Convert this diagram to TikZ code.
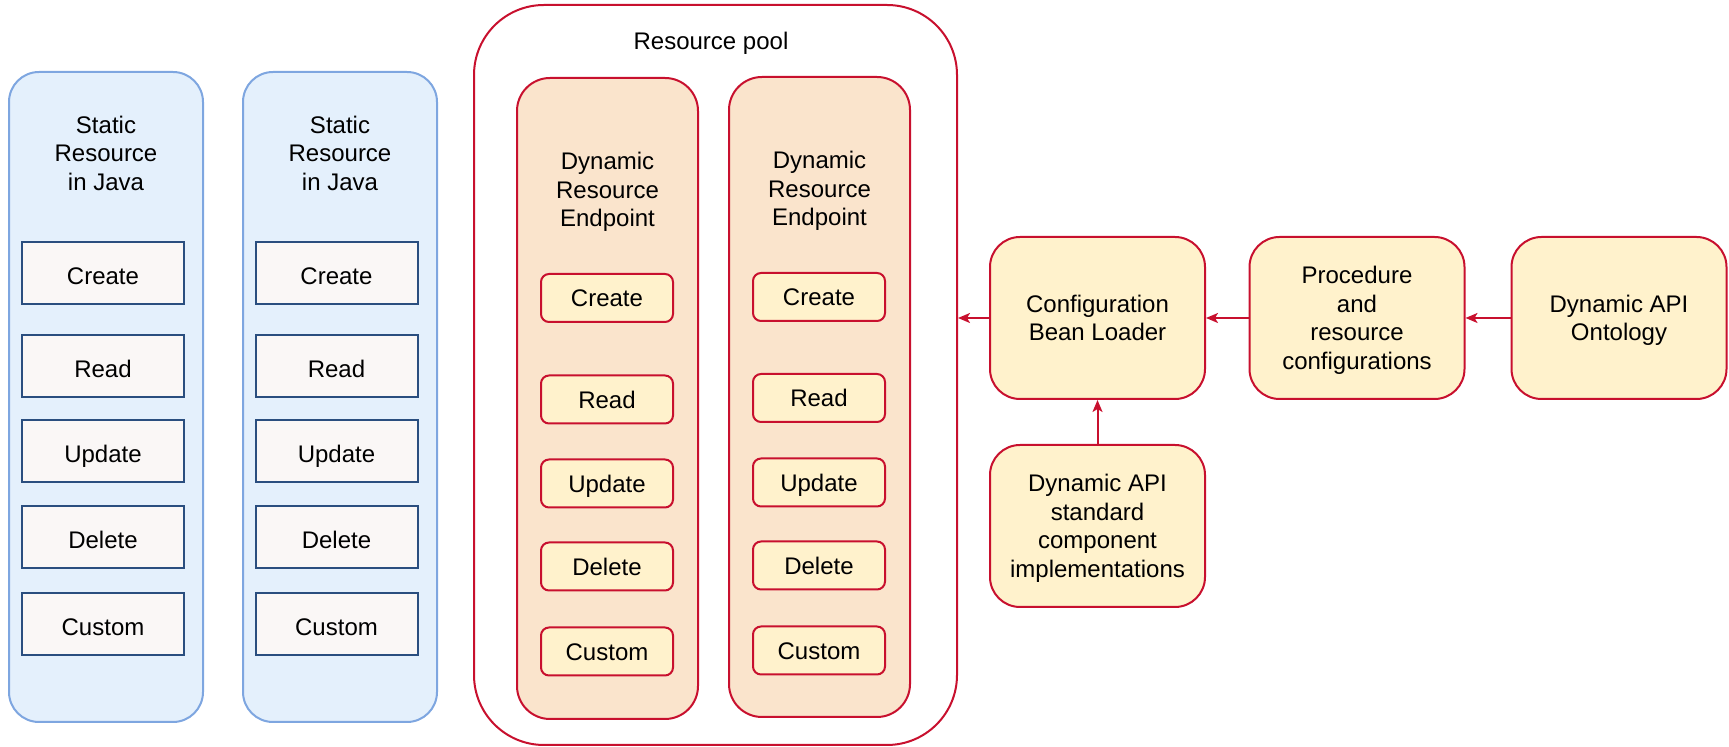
\documentclass[tikz,border=0pt]{standalone}
\usepackage{fontspec}
\setmainfont{Liberation Sans}
\usetikzlibrary{arrows.meta}
\definecolor{sfill}{HTML}{E4F0FC}
\definecolor{sdraw}{HTML}{7EA6E0}
\definecolor{ifill}{HTML}{FAF7F6}
\definecolor{idraw}{HTML}{2A4E7F}
\definecolor{rdraw}{HTML}{C8102E}
\definecolor{efill}{HTML}{FAE4CC}
\definecolor{yfill}{HTML}{FFF2CC}
\newcommand\statictop{\rule{0pt}{14.4pt}}
\newcommand\cenTop{\rule{0pt}{11.6pt}}
\newcommand\cenBot{\rule[-3pt]{0pt}{3pt}}
\begin{document}
\begin{tikzpicture}[x=0.5pt,y=-0.5pt,
  font=\fontsize{12}{14.25}\selectfont,
  every node/.style={inner sep=0pt, align=center},
  stext/.style={execute at begin node=\statictop, execute at end node=\cenBot},
  ctext/.style={execute at begin node=\cenTop, execute at end node=\cenBot},
  staticbox/.style={draw=sdraw, fill=sfill, line width=1pt, rounded corners=15pt, minimum width=97pt, minimum height=325pt},
  opbox/.style={stext, draw=idraw, fill=ifill, line width=1pt, minimum width=81pt, minimum height=31pt},
  poolbox/.style={draw=rdraw, fill=white, line width=1pt, rounded corners=35pt, minimum width=241.5pt, minimum height=370pt},
  endbox/.style={draw=rdraw, fill=efill, line width=1pt, rounded corners=16.5pt, minimum width=90.5pt, minimum height=320.5pt},
  dynop/.style={ctext, draw=rdraw, fill=yfill, line width=1pt, rounded corners=4pt, minimum width=66pt, minimum height=24pt},
  bigbox/.style={draw=rdraw, fill=yfill, line width=1pt, rounded corners=15pt, minimum width=107.5pt, minimum height=81pt},
  conn/.style={draw=rdraw, line width=1pt, -{Stealth[length=6pt,width=5pt,inset=1.5pt]}}
]
\useasboundingbox (0,0) rectangle (1729,747);

% static resources
\node[staticbox] (s1) at (106,397) {};
\node[staticbox] (s2) at (340,397) {};
\node (s1t) at (106,153) {Static\\Resource\\in Java};
\node (s2t) at (340,153) {Static\\Resource\\in Java};
\node[opbox] (s1c) at (103,273) {Create};
\node[opbox] (s1r) at (103,366) {Read};
\node[opbox] (s1u) at (103,451.5) {Update};
\node[opbox] (s1d) at (103,537.5) {Delete};
\node[opbox] (s1x) at (103,624.5) {Custom};
\node[opbox] (s2c) at (336.5,273) {Create};
\node[opbox] (s2r) at (336.5,366) {Read};
\node[opbox] (s2u) at (336.5,451.5) {Update};
\node[opbox] (s2d) at (336.5,537.5) {Delete};
\node[opbox] (s2x) at (336.5,624.5) {Custom};

% resource pool
\node[poolbox] (pool) at (715.5,375) {};
\node (poolt) at (711,43) {Resource pool};
\node[endbox] (e1) at (607.5,398.5) {};
\node[endbox, minimum height=320pt] (e2) at (819.5,397) {};
\node (e1t) at (607.5,192) {Dynamic\\Resource\\Endpoint};
\node (e2t) at (819.5,191) {Dynamic\\Resource\\Endpoint};
\node[dynop] (e1c) at (607,298) {Create};
\node[dynop] (e1r) at (607,399.5) {Read};
\node[dynop] (e1u) at (607,483.5) {Update};
\node[dynop] (e1d) at (607,566.5) {Delete};
\node[dynop] (e1x) at (607,651.5) {Custom};
\node[dynop] (e2c) at (819,297) {Create};
\node[dynop] (e2r) at (819,398) {Read};
\node[dynop] (e2u) at (819,482.5) {Update};
\node[dynop] (e2d) at (819,565.5) {Delete};
\node[dynop] (e2x) at (819,650.5) {Custom};

% right side
\node[bigbox] (cfg) at (1097.5,318) {\cenTop Configuration\\Bean Loader\cenBot};
\node[bigbox] (proc) at (1357,318) {\cenTop Procedure\\and\\resource\\configurations\cenBot};
\node[bigbox] (onto) at (1619,318) {\cenTop Dynamic API\\Ontology\cenBot};
\node[bigbox] (std) at (1097.5,526) {\cenTop Dynamic API\\standard\\component\\implementations\cenBot};

\draw[conn] (cfg.west) -- (cfg.west -| pool.east);
\draw[conn] (proc) -- (cfg);
\draw[conn] (onto) -- (proc);
\draw[conn] (std) -- (cfg);
\end{tikzpicture}
\end{document}
